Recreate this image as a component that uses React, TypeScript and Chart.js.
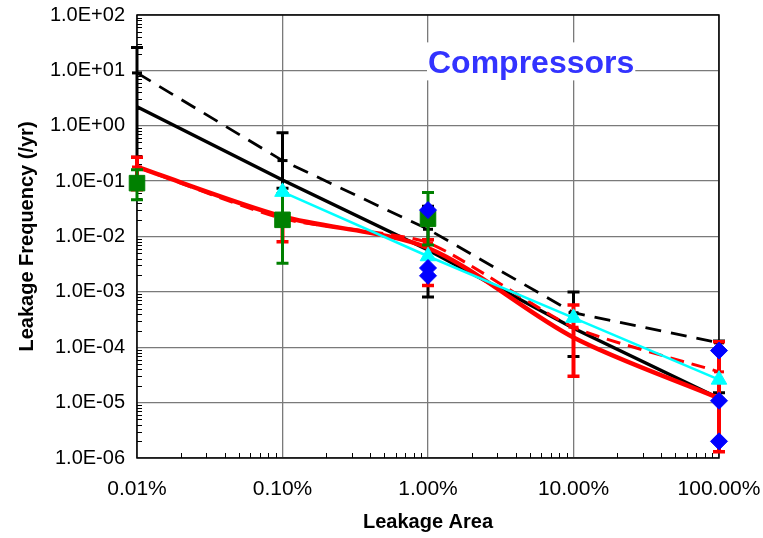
import { useEffect, useRef } from "react";
import { Chart, registerables } from "chart.js";

Chart.register(...registerables);

const FONT = "Arial, 'Liberation Sans', Helvetica, sans-serif";

// Axis ticks
const xTickValues = [0.01, 0.1, 1, 10, 100];
const xTickLabels = ["0.01%", "0.10%", "1.00%", "10.00%", "100.00%"];
const yTickValues = [1e-6, 1e-5, 1e-4, 1e-3, 1e-2, 1e-1, 1, 10, 100];
const yTickLabels = ["1.0E-06", "1.0E-05", "1.0E-04", "1.0E-03", "1.0E-02", "1.0E-01", "1.0E+00", "1.0E+01", "1.0E+02"];
const minorMultipliers = [2, 3, 4, 5, 6, 7, 8, 9];

// Leakage area categories (%)
const leakArea = [0.01, 0.1, 1, 10, 100];

// Black solid line
const blackSolid = [2.2, 0.105, 0.0057, 0.00022, 0.000012];
// Black dashed line with error bars
const blackDashed = [9.0, 0.235, 0.0135, 0.00042, 0.00012];
const blackLow = [0.27, 0.074, 0.00081, 0.000068, 0.000015];
const blackHigh = [26, 0.75, 0.035, 0.001, 0.00013];

// Red solid line
const redSolid = [0.18, 0.023, 0.0062, 0.00015, 0.000012];
// Red dashed line with error bars
const redDashed = [0.18, 0.021, 0.0077, 0.00023, 0.000036];
const redLow = [0.07, 0.008, 0.0013, 0.00003, 0.0000013];
const redHigh = [0.27, 0.025, 0.0087, 0.00058, 0.000126];

// Green squares with error bars
const greenArea = [0.01, 0.1, 1];
const greenValues = [0.092, 0.02, 0.021];
const greenLow = [0.046, 0.0033, 0.007];
const greenHigh = [0.16, 0.06, 0.062];

// Blue diamonds
const blueArea = [1, 1, 1, 100, 100, 100];
const blueValues = [0.03, 0.0027, 0.00195, 0.000087, 0.0000108, 0.000002];

// Cyan triangles line
const cyanArea = [0.1, 1, 10, 100];
const cyanValues = [0.064, 0.0044, 0.00034, 0.000026];

const pts = (xs: number[], ys: number[]) => xs.map((x, i) => ({ x, y: ys[i] }));

const errorBarPlugin = {
  id: "errorBars",
  beforeDatasetDraw(chart: any, args: any) {
    const ds: any = chart.data.datasets[args.index];
    if (!ds.errLow) return;
    const xs = chart.scales.x;
    const ys = chart.scales.y;
    const ctx = chart.ctx;
    ctx.save();
    ctx.strokeStyle = ds.errColor;
    ds.data.forEach((p: any, i: number) => {
      const lo = ds.errLow[i];
      const hi = ds.errHigh[i];
      const px = xs.getPixelForValue(p.x);
      const pl = ys.getPixelForValue(lo);
      const ph = ys.getPixelForValue(hi);
      ctx.lineWidth = ds.errWidth;
      ctx.beginPath();
      ctx.moveTo(px, pl);
      ctx.lineTo(px, ph);
      ctx.stroke();
      ctx.lineWidth = ds.capThickness;
      ctx.beginPath();
      ctx.moveTo(px - ds.capHalf, pl);
      ctx.lineTo(px + ds.capHalf, pl);
      ctx.moveTo(px - ds.capHalf, ph);
      ctx.lineTo(px + ds.capHalf, ph);
      ctx.stroke();
    });
    ctx.restore();
  },
};

const framePlugin = {
  id: "frameAndMinor",
  beforeDatasetsDraw(chart: any) {
    const { ctx, chartArea } = chart;
    const xs = chart.scales.x;
    const ys = chart.scales.y;
    ctx.save();
    // minor ticks (inside)
    ctx.strokeStyle = "#000";
    ctx.lineWidth = 1;
    ctx.beginPath();
    for (let d = 0; d < xTickValues.length - 1; d++) {
      for (const m of minorMultipliers) {
        const px = Math.round(xs.getPixelForValue(xTickValues[d] * m)) + 0.5;
        ctx.moveTo(px, chartArea.bottom);
        ctx.lineTo(px, chartArea.bottom - 5);
      }
    }
    for (let d = 0; d < yTickValues.length - 1; d++) {
      for (const m of minorMultipliers) {
        const py = Math.round(ys.getPixelForValue(yTickValues[d] * m)) + 0.5;
        ctx.moveTo(chartArea.left, py);
        ctx.lineTo(chartArea.left + 5, py);
      }
    }
    ctx.stroke();
    // frame
    ctx.lineWidth = 1.5;
    ctx.strokeStyle = "#000";
    ctx.strokeRect(chartArea.left, chartArea.top, chartArea.right - chartArea.left, chartArea.bottom - chartArea.top);

    // title box
    const text = "Compressors";
    ctx.font = `bold 32px ${FONT}`;
    const w = ctx.measureText(text).width;
    const left = xs.getPixelForValue(1);
    const base = ys.getPixelForValue(10) + 3;
    ctx.fillStyle = "#fff";
    ctx.fillRect(left - 1, base - 31, w + 2, 38);
    ctx.fillStyle = "#3333ff";
    ctx.textBaseline = "alphabetic";
    ctx.textAlign = "left";
    ctx.fillText(text, left, base);
    ctx.restore();
  },
};

export default function App() {
  const ref = useRef<HTMLCanvasElement | null>(null);

  useEffect(() => {
    if (!ref.current) return;
    Chart.defaults.font.family = FONT;
    const gridColor = "#7a7a7a";
    const chart = new Chart(ref.current, {
      type: "scatter",
      data: {
        datasets: [
          {
            label: "Blue",
            data: pts(blueArea, blueValues),
            showLine: false,
            pointStyle: "rectRot",
            pointRadius: 8.5,
            backgroundColor: "#0000ff",
            borderColor: "#0000ff",
            borderWidth: 1,
            clip: 20,
          } as any,
          {
            label: "Cyan",
            data: pts(cyanArea, cyanValues),
            showLine: true,
            borderColor: "#00ffff",
            borderWidth: 2.5,
            pointStyle: "triangle",
            pointRadius: 9,
            pointBackgroundColor: "#00ffff",
            pointBorderColor: "#00ffff",
            pointBorderWidth: 1,
            clip: 20,
          },
          {
            label: "Green",
            data: pts(greenArea, greenValues),
            showLine: false,
            pointStyle: "rect",
            pointRadius: 11,
            backgroundColor: "#008000",
            borderColor: "#008000",
            borderWidth: 1,
            errLow: greenLow,
            errHigh: greenHigh,
            errColor: "#008000",
            errWidth: 3,
            capThickness: 3,
            capHalf: 6,
            clip: 20,
          } as any,
          {
            label: "Red solid",
            data: pts(leakArea, redSolid),
            showLine: true,
            borderColor: "#ff0000",
            borderWidth: 4.5,
            tension: 0.3,
            pointRadius: 0,
            clip: 20,
          },
          {
            label: "Red dashed",
            data: pts(leakArea, redDashed),
            showLine: true,
            borderColor: "#ff0000",
            borderWidth: 3,
            borderDash: [14, 8],
            tension: 0.2,
            pointStyle: "line",
            pointRadius: 5,
            pointBorderWidth: 3,
            pointBorderColor: "#ff0000",
            errLow: redLow,
            errHigh: redHigh,
            errColor: "#ff0000",
            errWidth: 4,
            capThickness: 3.5,
            capHalf: 6,
            clip: 20,
          } as any,
          {
            label: "Black solid",
            data: pts(leakArea, blackSolid),
            showLine: true,
            borderColor: "#000000",
            borderWidth: 3.5,
            pointRadius: 0,
            clip: 20,
          },
          {
            label: "Black dashed",
            data: pts(leakArea, blackDashed),
            showLine: true,
            borderColor: "#000000",
            borderWidth: 2.8,
            borderDash: [16, 10],
            pointStyle: "line",
            pointRadius: 5,
            pointBorderWidth: 3,
            pointBorderColor: "#000000",
            errLow: blackLow,
            errHigh: blackHigh,
            errColor: "#000000",
            errWidth: 3,
            capThickness: 3,
            capHalf: 6,
            clip: 20,
          } as any,
        ],
      },
      options: {
        animation: false,
        responsive: false,
        devicePixelRatio: 1,
        layout: { padding: { left: 0, right: 44, top: 15, bottom: 0 } },
        plugins: { legend: { display: false }, tooltip: { enabled: false } },
        scales: {
          x: {
            type: "logarithmic",
            position: "bottom",
            min: 0.01,
            max: 100,
            afterBuildTicks: (s: any) => {
              s.ticks = xTickValues.map((v) => ({ value: v }));
            },
            afterFit: (s: any) => {
              s.height = 80;
              s.paddingLeft = 0;
              s.paddingRight = 0;
              s.paddingTop = 0;
              s.paddingBottom = 0;
            },
            ticks: {
              callback: (_v: any, i: number) => xTickLabels[i],
              font: { size: 21, family: FONT },
              color: "#000",
              padding: 19,
              maxRotation: 0,
              autoSkip: false,
            },
            grid: { color: gridColor, lineWidth: 1.3, drawTicks: false },
            border: { display: false },
            title: {
              display: true,
              text: "Leakage Area",
              font: { size: 20, weight: "bold", family: FONT },
              color: "#000",
              padding: { top: 0, bottom: 4 },
            },
          },
          y: {
            type: "logarithmic",
            position: "left",
            min: 1e-6,
            max: 100,
            afterBuildTicks: (s: any) => {
              s.ticks = yTickValues.map((v) => ({ value: v }));
            },
            afterFit: (s: any) => {
              s.width = 137;
              s.paddingLeft = 0;
              s.paddingRight = 0;
              s.paddingTop = 0;
              s.paddingBottom = 0;
            },
            ticks: {
              callback: (_v: any, i: number) => yTickLabels[i],
              font: { size: 20, family: FONT },
              color: "#000",
              padding: 12,
              autoSkip: false,
            },
            grid: { color: gridColor, lineWidth: 1.3, drawTicks: false },
            border: { display: false },
            title: {
              display: true,
              text: "Leakage Frequency (/yr)",
              font: { size: 20, weight: "bold", family: FONT },
              color: "#000",
              padding: { top: 15, bottom: 0 },
            },
          },
        },
      } as any,
      plugins: [framePlugin, errorBarPlugin],
    });
    return () => chart.destroy();
  }, []);

  return (
    <div style={{ position: "fixed", left: 0, top: 0, width: 763, height: 538, background: "#fff" }}>
      <canvas ref={ref} width={763} height={538} style={{ width: 763, height: 538, display: "block" }} />
    </div>
  );
}
